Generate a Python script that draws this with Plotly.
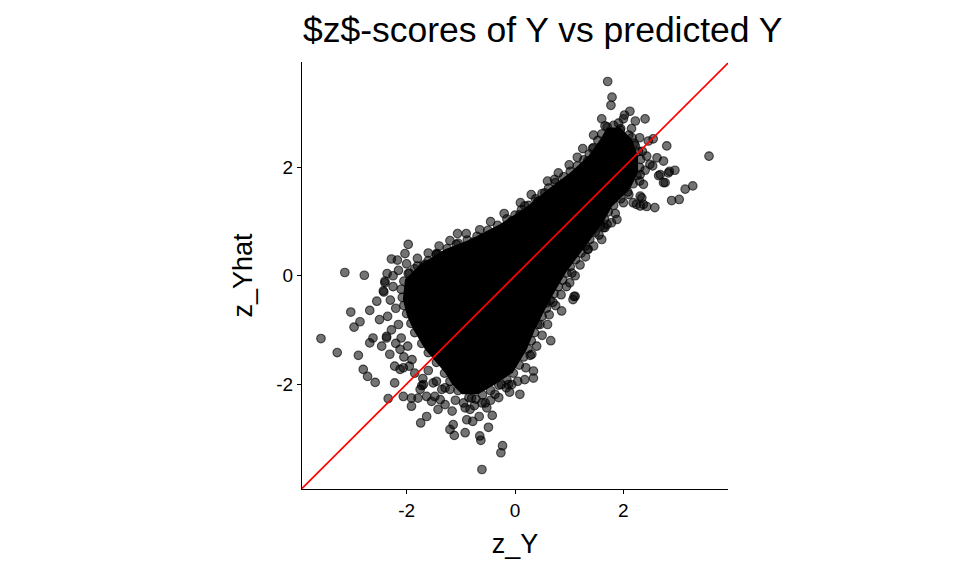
import plotly.graph_objects as go

# saturated centre of the cloud (outline of the area where points overlap to solid black)
core_z_y = [-0.98, -1.16, -1.29, -1.66, -1.88, -1.99, -2.07, -2.03, -1.75, -1.29, -0.83, -0.28,
            0.22, 0.61, 1.02, 1.35, 1.57, 1.70, 1.94, 2.16, 2.27, 2.27, 2.12, 1.79, 1.63, 1.39,
            1.16, 0.94, 0.65, 0.37, 0.22, -0.04, -0.37, -0.68]
core_z_yhat = [-2.19, -2.01, -1.79, -1.36, -0.99, -0.75, -0.44, -0.07, 0.21, 0.49, 0.67, 0.95,
               1.28, 1.60, 1.91, 2.21, 2.52, 2.74, 2.74, 2.52, 2.21, 1.91, 1.60, 1.28, 0.99, 0.67,
               0.36, 0.06, -0.44, -0.99, -1.36, -1.79, -2.01, -2.19]

# points sitting on the rim of the dense centre
edge_z_y = [-0.85, -1.05, -1.20, -1.30, -1.45, -1.60, -1.72, -1.85, -1.92, -2.00, -2.05, -2.08,
            -2.10, -2.05, -1.95, -1.80, -1.60, -1.42, -1.25, -1.05, -0.88, -0.70, -0.50, -0.32,
            -0.15, 0.00, 0.12, 0.25, 0.38, 0.50, 0.62, 0.75, 0.90, 1.02, 1.15, 1.27, 1.37, 1.45,
            1.53, 1.60, 1.70, 1.82, 1.95, 2.10, 2.20, 2.28, 2.32, 2.30, 2.25, 2.18, 2.08, 1.95,
            1.82, 1.72, 1.65, 1.58, 1.48, 1.38, 1.30, 1.22, 1.12, 1.02, 0.95, 0.88, 0.80, 0.72,
            0.65, 0.58, 0.50, 0.42, 0.36, 0.30, 0.24, 0.16, 0.08, -0.03, -0.15, -0.30, -0.45,
            -0.60, -0.72]
edge_z_yhat = [-2.25, -2.12, -1.95, -1.80, -1.60, -1.42, -1.25, -1.05, -0.88, -0.70, -0.55, -0.40,
               -0.25, -0.10, 0.05, 0.18, 0.28, 0.40, 0.50, 0.60, 0.66, 0.73, 0.84, 0.93, 1.05,
               1.12, 1.22, 1.30, 1.42, 1.52, 1.62, 1.72, 1.83, 1.93, 2.03, 2.14, 2.25, 2.37, 2.50,
               2.62, 2.75, 2.78, 2.72, 2.60, 2.45, 2.30, 2.15, 2.00, 1.85, 1.70, 1.55, 1.42, 1.30,
               1.18, 1.05, 0.92, 0.80, 0.67, 0.55, 0.42, 0.30, 0.17, 0.05, -0.08, -0.20, -0.33,
               -0.45, -0.60, -0.75, -0.90, -1.05, -1.20, -1.35, -1.50, -1.65, -1.80, -1.92, -2.02,
               -2.12, -2.20, -2.28]

# looser ring of overlapping points just outside the rim
rim_z_y = [-2.25, -2.30, -2.20, -2.35, -2.15, -2.28, -2.10, -2.20, -1.98, -2.05, -1.90, -1.85,
           -1.70, -1.60, -1.45, -1.35, -1.10, -0.95, -0.75, -0.45, -0.30, -0.10, 0.05, 0.20,
           0.40, 0.50, 0.60, 0.75, 0.85, 0.95, 1.05, 1.20, 1.30, 1.45, 1.55, 1.70, 1.85, 2.00,
           2.10, 2.30, 2.40, 2.35, 2.30, 2.00, 1.60, 1.45, 1.25, 1.00, 0.80, 0.60, 0.30, 0.10,
           -0.20, -0.45, -0.65, -0.90, -1.20, -1.40, -1.60, -1.80, -2.00, -2.15, -2.25]
rim_z_yhat = [-0.20, -0.45, -0.60, -0.75, -0.90, -1.00, -1.15, -1.25, -1.30, -1.50, -1.55, -1.80,
              -1.90, -1.75, -1.95, -2.10, -2.30, -2.35, -2.40, -2.30, -2.25, -2.15, -1.95, -1.70,
              -1.30, -1.10, -0.90, -0.55, -0.35, -0.20, 0.05, 0.20, 0.35, 0.55, 0.75, 0.95, 1.15,
              1.35, 1.50, 1.75, 1.95, 2.30, 2.55, 2.90, 2.90, 2.60, 2.35, 2.05, 1.90, 1.75, 1.50,
              1.35, 1.15, 1.00, 0.85, 0.78, 0.65, 0.55, 0.42, 0.32, 0.22, 0.10, 0.00]

# scattered points around the cloud
halo_z_y = [1.71, 1.79, 1.77, 2.02, 2.12, 2.40, 2.22, 1.91, 1.66, 2.15, 2.55, 2.46, 2.80, 3.58,
            1.43, 1.15, 1.34, 2.62, 2.74, 2.49, 2.95, 2.83, 2.65, 2.74, 3.28, 3.14, 3.03, 2.89,
            2.58, 2.37, 2.24, 2.31, 1.88, 1.66, 1.60, 1.34, 1.11, 0.73, 0.43, 0.18, 0.09, -0.06,
            -1.06, -1.08, -0.58, -0.77, -1.45, -1.97, -2.03, -2.28, -2.17, -3.14, -2.78, -2.36,
            -1.97, -1.69, -1.85,
            -2.40, -2.42, -2.55, -3.03, -2.68, -2.86, -2.97, -2.50, -3.58, -3.28, -2.89, -2.68,
            -2.62, -2.46, -2.31, -2.80, -2.72, -2.58, -2.22, -2.34, -2.06, -1.91, -1.74, -1.63,
            -1.42, -1.20, -1.12, -1.14, -0.92, -0.89, -0.78, -0.66, -0.63, -0.49, -0.42, -0.23,
            -0.26, -0.61, -0.55, 0.09, -0.12, 0.34, 0.18, 0.28, 0.66, 0.63, 0.86, 1.09, 1.01,
            0.58, 0.46, -2.22, -2.12, -1.95, -1.72, -1.79, -1.54, -1.29, -1.16, -0.80,
            1.78, 1.63, 1.35, 1.11,
            0.70, 1.07, 0.31, 0.34, -0.25, -0.16, -0.06, -0.37, -0.52, -0.61, -0.65, -0.83,
            -0.92, -1.91, -2.37, -1.63, -1.48, -1.38, -1.29, -1.20, -1.51, -1.75, -1.69,
            -1.45, -2.40, -2.43, -2.37, -2.12, -2.06,
            0.86, 0.42, -0.37, -1.66,
            1.94, 2.16, 2.22, 2.43, 2.54, 2.68, 2.77, 2.85, 2.31, 2.37, 2.18, 2.31, 2.43, 2.34,
            0.55]
halo_z_yhat = [3.59, 3.30, 3.15, 2.97, 3.04, 2.90, 2.86, 2.82, 2.77, 2.72, 2.53, 2.49, 2.40, 2.21,
               2.35, 2.19, 2.12, 2.18, 2.12, 2.06, 1.95, 1.90, 1.85, 1.72, 1.66, 1.60, 1.41, 1.39,
               1.26, 1.32, 1.32, 1.47, 1.04, 0.89, 0.67, 0.49, 0.00, 1.78, 1.38, 1.29, 1.13, 1.01,
               0.78, 0.58, 0.70, 0.62, 0.41, 0.58, 0.41, 0.31, 0.29, 0.06, 0.01, 0.04,
               0.04, 0.18, 0.13,
               -0.13, -0.30, -0.47, -0.67, -0.64, -0.85, -0.95, -0.81, -1.16, -1.42, -1.47, -1.24,
               -1.15, -1.30, -1.45, -1.73, -1.86, -1.97, -1.98, -2.27, -2.23, -2.41, -2.72, -2.60,
               -2.47, -2.84, -2.95, -2.75, -2.90, -2.66, -2.69, -2.60, -3.04, -2.80, -2.58, -3.14,
               -3.27, -3.58, -2.35, -2.19, -2.01, -1.89, -1.92, -1.47, -1.20, -0.72, -0.65, -0.38,
               -0.13, -0.50, -0.90, -1.67, -1.73, -1.67, -2.03, -2.26, -2.32, -2.38, -2.50, -2.26,
               0.98, 0.89, 0.49, -0.38,
               -0.49, -0.44, -1.45, -1.76, -2.01, -2.07, -2.01, -2.19, -2.44, -2.35, -2.96, -2.47,
               -2.44, -2.26, -1.12, -2.23, -2.23, -2.29, -2.07, -2.10, -1.98, -2.10, -2.01,
               0.39, -0.10, -0.28, -1.15, -1.36, -1.70,
               1.67, 1.37, 0.76, 0.21,
               2.69, 2.55, 2.40, 2.21, 2.03, 1.87, 1.72, 1.93, 1.87, 1.69, 1.35, 1.29, 1.28, 1.44,
               1.53]

# reference line y = x
abline_intercept = 0
abline_slope = 1

x_range = [-3.93, 3.93]
y_range = [-3.94, 3.95]

point_fill = "rgba(0,0,0,0.55)"

# the page body adds an 8px offset, so the figure is 8px smaller than the window
W, H = 952, 568

fig = go.Figure()

fig.add_trace(go.Scatter(
    x=core_z_y, y=core_z_yhat, mode="lines", fill="toself",
    fillcolor="black", line=dict(width=0, color="black"),
    hoverinfo="skip", showlegend=False))

for xs, ys in [(rim_z_y, rim_z_yhat), (edge_z_y, edge_z_yhat), (halo_z_y, halo_z_yhat)]:
    fig.add_trace(go.Scatter(
        x=xs, y=ys, mode="markers", showlegend=False,
        marker=dict(size=8.6, color=point_fill,
                    line=dict(width=1.1, color="rgba(0,0,0,0.65)"))))

line_x = x_range
line_y = [abline_intercept + abline_slope * v for v in line_x]
fig.add_trace(go.Scatter(
    x=line_x, y=line_y, mode="lines", showlegend=False,
    line=dict(color="red", width=1.7), hoverinfo="skip"))

axis_style = dict(
    showline=True, linecolor="black", linewidth=1.3,
    ticks="outside", ticklen=4, tickwidth=1.3, tickcolor="black",
    showgrid=False, zeroline=False,
    tickfont=dict(size=19, color="black"),
    tickvals=[-2, 0, 2], ticktext=["-2", "0", "2"],
)

fig.update_layout(
    width=W, height=H,
    margin=dict(l=294, r=232, t=54, b=87),
    paper_bgcolor="white", plot_bgcolor="white",
    font=dict(family="Liberation Sans, Arial, sans-serif", color="black"),
    title=dict(text="&#36;z&#36;-scores of Y vs predicted Y",
               font=dict(size=35.5, color="black"),
               x=295 / W, xanchor="left", xref="container",
               y=1 - 22 / H, yanchor="middle", yref="container"),
    xaxis=dict(range=x_range, title=dict(text="z_Y", font=dict(size=27), standoff=14),
               **axis_style),
    yaxis=dict(range=y_range, title=dict(text="z_Yhat", font=dict(size=27), standoff=15),
               **axis_style),
)

fig.write_html("out.html")
